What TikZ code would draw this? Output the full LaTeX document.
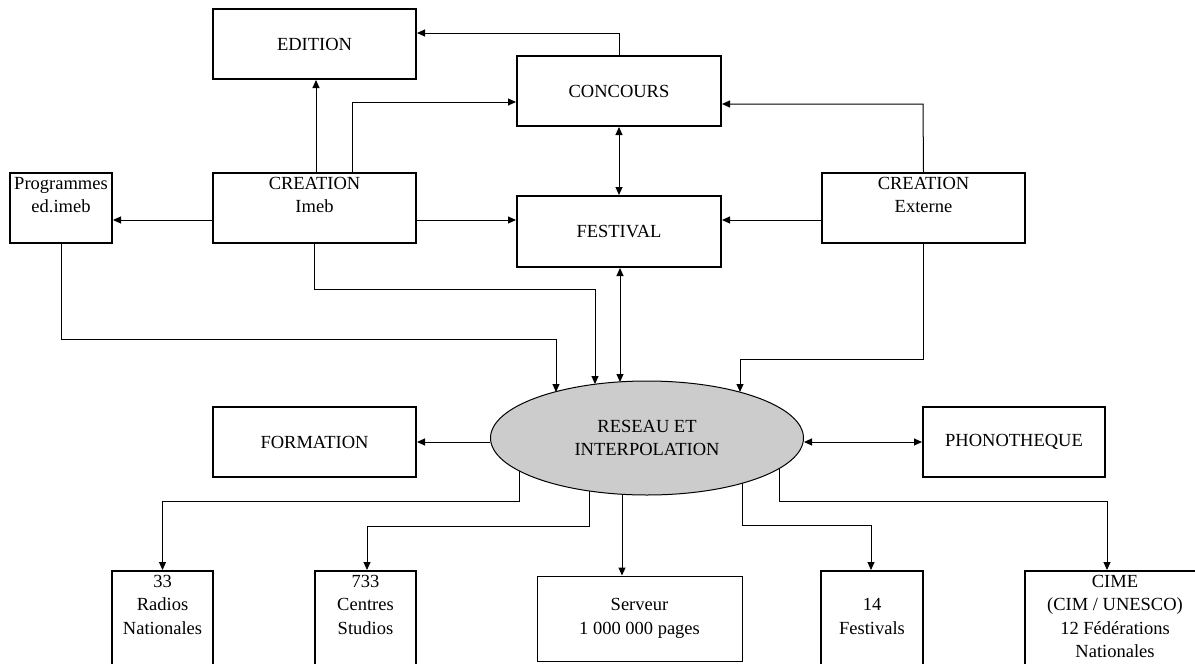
\documentclass[tikz,border=0pt]{standalone}
\usepackage{fontspec}
\setmainfont{Liberation Serif}
\usetikzlibrary{arrows.meta,shapes.geometric}
\tikzset{
  every node/.style={font=\fontsize{18.5}{23.5}\selectfont},
  box/.style={draw, line width=2pt, fill=white, inner sep=0pt},
  thinbox/.style={draw, line width=1pt, fill=white, inner sep=0pt, align=center},
  toptext/.style={anchor=north, align=center, inner sep=0pt, yshift=-5pt},
  reseau/.style={ellipse, draw, line width=1pt, fill=gray!40, inner sep=0pt, align=center},
  conn/.style={line width=1pt, -{Triangle[length=8pt,width=7pt]}},
  dconn/.style={line width=1pt, {Triangle[length=8pt,width=7pt]}-{Triangle[length=8pt,width=7pt]}}
}
\begin{document}
\begin{tikzpicture}[x=1pt,y=-1pt]
\useasboundingbox (0,0) rectangle (1195,664);
\clip (0,0) rectangle (1195,664);

% top boxes
\node[box, minimum width=203pt, minimum height=70pt] (edition) at (314.5,44) {EDITION};
\node[box, minimum width=204pt, minimum height=70pt] (concours) at (619,91) {CONCOURS};
\node[box, minimum width=102pt, minimum height=70pt, label={[toptext]north:{Programmes\\ed.imeb}}] (prog) at (61,208) {};
\node[box, minimum width=203pt, minimum height=70pt, label={[toptext]north:{CREATION\\Imeb}}] (imeb) at (314.5,208) {};
\node[box, minimum width=204pt, minimum height=71pt] (festival) at (619,231.5) {FESTIVAL};
\node[box, minimum width=203pt, minimum height=70pt, label={[toptext]north:{CREATION\\Externe}}] (externe) at (923.5,208) {};

% middle
\node[box, minimum width=203pt, minimum height=70pt] (formation) at (314.5,442) {FORMATION};
\node[reseau, minimum width=313pt, minimum height=114pt] (res) at (647,438) {RESEAU ET\\INTERPOLATION};
\node[box, minimum width=182pt, minimum height=70pt] (phono) at (1014,442) {PHONOTHEQUE};

% bottom boxes
\node[box, minimum width=101pt, minimum height=120pt, label={[toptext]north:{33\\Radios\\Nationales}}] (radios) at (162.5,631) {};
\node[box, minimum width=101pt, minimum height=120pt, label={[toptext]north:{733\\Centres\\Studios}}] (studios) at (365.5,631) {};
\node[thinbox, minimum width=205pt, minimum height=85pt] (serveur) at (639.5,618.5) {Serveur\\1 000 000 pages};
\node[box, minimum width=102pt, minimum height=120pt, label={[toptext, yshift=-23.5pt]north:{14\\Festivals}}] (fest14) at (872,631) {};
\node[box, minimum width=300pt, minimum height=120pt, label={[toptext, xshift=-60pt]north:{CIME\\(CIM / UNESCO)\\12 Fédérations\\Nationales}}] (cime) at (1175,631) {};

% bend coordinates
\coordinate (c1) at (619,33);
\coordinate (c2) at (352,102);
\coordinate (c3) at (923,104);
\coordinate (c4) at (556,339);
\coordinate (e1) at (556,392);
\coordinate (c5) at (595,289);
\coordinate (e2) at (595,384);
\coordinate (e3) at (620,382);
\coordinate (c6) at (740,359);
\coordinate (e4) at (740,392);
\coordinate (b1) at (519,471);
\coordinate (d1) at (519,501);
\coordinate (b2) at (589,491);
\coordinate (d2) at (589,526);
\coordinate (b3) at (622,494);
\coordinate (b4) at (742,483);
\coordinate (d4) at (742,525);
\coordinate (b5) at (779,469);
\coordinate (d5) at (779,501);

% connectors top
\draw[conn] (concours.north) -- (c1) -- (c1 -| edition.east);
\draw[conn] (imeb.north -| 316,0) -- (edition.south -| 316,0);
\draw[conn] (c2 |- imeb.north) -- (c2) -- (c2 -| concours.west);
\draw[conn] ([yshift=-12pt]imeb.west) -- ([yshift=-12pt]imeb.west -| prog.east);
\draw[conn] ([yshift=-12pt]imeb.east) -- ([yshift=-12pt]imeb.east -| festival.west);
\draw[dconn] (concours.south) -- (festival.north);
\draw[conn] (externe.north) -- (c3) -- (c3 -| concours.east);
\draw[conn] ([yshift=-12pt]externe.west) -- ([yshift=-12pt]externe.west -| festival.east);

% connectors to the network
\draw[conn] (prog.south) |- (c4) -- (e1);
\draw[conn] (imeb.south) |- (c5) -- (e2);
\draw[dconn] (festival.south -| e3) -- (e3);
\draw[conn] (externe.south) |- (c6) -- (e4);
\draw[conn] (res.west |- formation.east) -- (formation.east);
\draw[dconn] (res.east |- phono.west) -- (phono.west);

% connectors from the network
\draw[conn] (b1) -- (d1) -- (d1 -| radios.north) -- (radios.north);
\draw[conn] (b2) -- (d2) -- (d2 -| 367,0) -- (radios.north -| 367,0);
\draw[conn] (b3) -- (b3 |- serveur.north);
\draw[conn] (b4) -- (d4) -- (d4 -| 871,0) -- (fest14.north -| 871,0);
\draw[conn] (b5) -- (d5) -- (d5 -| 1107,0) -- (cime.north -| 1107,0);
\end{tikzpicture}
\end{document}
